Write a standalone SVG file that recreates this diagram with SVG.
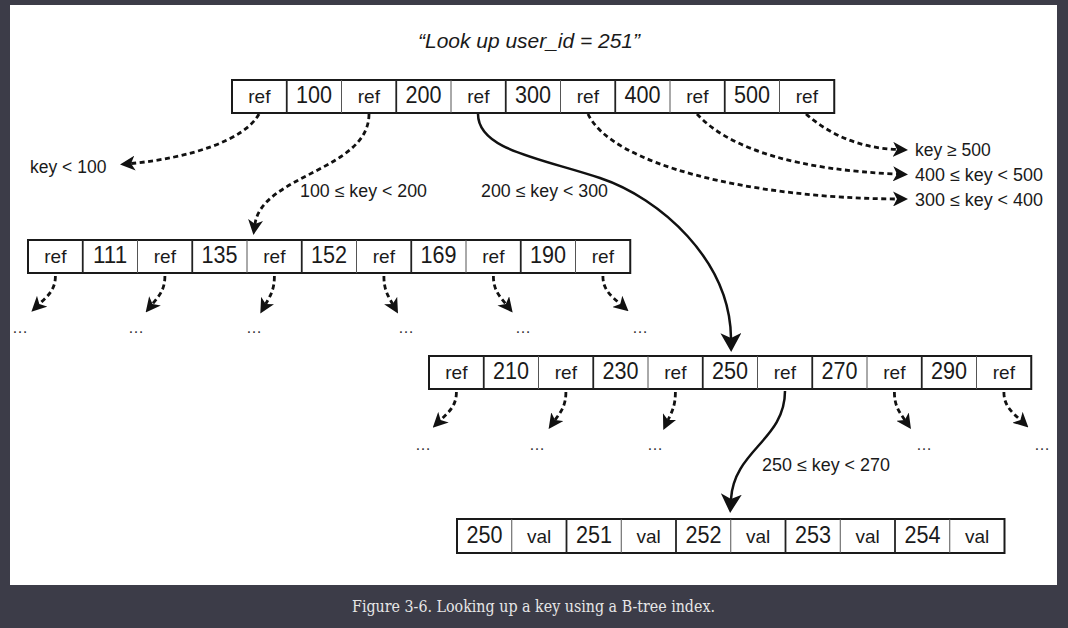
<svg xmlns="http://www.w3.org/2000/svg" width="1068" height="628" viewBox="0 0 1068 628">
<style>
.box{fill:#fff;stroke:#1a1a1a;stroke-width:2}
.dv{stroke:#555;stroke-width:1}
.dk{stroke:#222;stroke-width:1.8}
.num{font-family:"Liberation Sans",Arial,sans-serif;font-size:23px;fill:#1a1a1a;text-anchor:middle}
.ref{font-family:"Liberation Sans",Arial,sans-serif;font-size:19px;fill:#1a1a1a;text-anchor:middle}
.lbl{font-family:"Liberation Sans",Arial,sans-serif;font-size:17.5px;fill:#1a1a1a}
.dots{font-family:"Liberation Sans",Arial,sans-serif;font-size:16px;fill:#333;text-anchor:middle}
.dash{fill:none;stroke:#111;stroke-width:2.8;stroke-dasharray:5 3.5}
.solid{fill:none;stroke:#111;stroke-width:2.5}
</style>
<defs>
<marker id="ah" markerUnits="userSpaceOnUse" markerWidth="15" markerHeight="15" viewBox="0 0 15 15" refX="4" refY="7.5" orient="auto">
<path d="M0,0 L15,7.5 L0,15 L4,7.5 Z" fill="#111"/>
</marker>
<marker id="ahb" markerUnits="userSpaceOnUse" markerWidth="19" markerHeight="21" viewBox="0 0 19 21" refX="5" refY="10.5" orient="auto">
<path d="M0,0 L19,10.5 L0,21 L5,10.5 Z" fill="#111"/>
</marker>
</defs>
<rect x="0" y="0" width="1068" height="628" fill="#3c3c48"/>
<rect x="10" y="5" width="1047" height="580" fill="#fff"/>
<text x="418" y="48" font-family="'Liberation Sans',Arial,sans-serif" font-size="20.5" font-style="italic" fill="#1a1a1a" textLength="222" lengthAdjust="spacingAndGlyphs">“Look up user_id = 251”</text>

<g id="connectors">
<path class="dash" d="M259,114 C245,140 190,158 131,163.5" marker-end="url(#ah)"/>
<path class="dash" d="M369,114 C369,170 262,175 255,224" marker-end="url(#ah)"/>
<path class="solid" d="M478,114 C478,150 540,158 600,178 C660,198 730,260 731,338" marker-end="url(#ahb)"/>
<path class="dash" d="M588,114 C612,165 750,198 897,199" marker-end="url(#ah)"/>
<path class="dash" d="M697,114 C730,150 800,170 897,174" marker-end="url(#ah)"/>
<path class="dash" d="M806,114 C830,135 860,148 897,149.5" marker-end="url(#ah)"/>
<path class="dash" d="M55.4,276 C55.4,290 47.6,296 39.3,304" marker-end="url(#ah)"/>
<path class="dash" d="M164.9,276 C164.9,290 158.9,296 152.5,304" marker-end="url(#ah)"/>
<path class="dash" d="M274.4,276 C274.4,290 270.2,296 265.7,304" marker-end="url(#ah)"/>
<path class="dash" d="M383.9,276 C383.9,290 388.1,296 392.6,304" marker-end="url(#ah)"/>
<path class="dash" d="M493.4,276 C493.4,290 499.4,296 505.8,304" marker-end="url(#ah)"/>
<path class="dash" d="M602.9,276 C602.9,290 611.3,296 620.3,304" marker-end="url(#ah)"/>
<path class="dash" d="M456.4,392 C456.4,406 448.8,412 440.6,420" marker-end="url(#ah)"/>
<path class="dash" d="M565.9,392 C565.9,406 560.7,412 555,420" marker-end="url(#ah)"/>
<path class="dash" d="M675.4,392 C675.4,406 671.8,412 668,420" marker-end="url(#ah)"/>
<path class="dash" d="M894.4,392 C894.4,406 899.4,412 904.8,420" marker-end="url(#ah)"/>
<path class="dash" d="M1003.9,392 C1003.9,406 1011.9,412 1020.4,420" marker-end="url(#ah)"/>
<path class="solid" d="M785,391 C785,440 734,450 731,499" marker-end="url(#ahb)"/>
</g>

<g id="labels">
<text class="lbl" x="30" y="173">key &lt; 100</text>
<text class="lbl" x="300" y="197" textLength="127" lengthAdjust="spacingAndGlyphs">100 ≤ key &lt; 200</text>
<text class="lbl" x="481" y="197" textLength="127" lengthAdjust="spacingAndGlyphs">200 ≤ key &lt; 300</text>
<text class="lbl" x="915" y="156">key ≥ 500</text>
<text class="lbl" x="915" y="181" textLength="128" lengthAdjust="spacingAndGlyphs">400 ≤ key &lt; 500</text>
<text class="lbl" x="915" y="206" textLength="128" lengthAdjust="spacingAndGlyphs">300 ≤ key &lt; 400</text>
<text class="lbl" x="762" y="471" textLength="128" lengthAdjust="spacingAndGlyphs">250 ≤ key &lt; 270</text>
<text class="dots" x="20" y="333">…</text>
<text class="dots" x="136" y="333">…</text>
<text class="dots" x="254" y="333">…</text>
<text class="dots" x="406" y="333">…</text>
<text class="dots" x="523" y="333">…</text>
<text class="dots" x="640" y="333">…</text>
<text class="dots" x="423" y="450">…</text>
<text class="dots" x="537" y="450">…</text>
<text class="dots" x="655" y="450">…</text>
<text class="dots" x="924" y="450">…</text>
<text class="dots" x="1042" y="450">…</text>
</g>

<g id="node-root">
<rect class="box" x="232" y="80" width="602.25" height="33"/>
<line class="dk" x1="286.75" y1="80" x2="286.75" y2="113"/>
<line class="dv" x1="341.5" y1="80" x2="341.5" y2="113"/>
<line class="dk" x1="396.25" y1="80" x2="396.25" y2="113"/>
<line class="dv" x1="451" y1="80" x2="451" y2="113"/>
<line class="dk" x1="505.75" y1="80" x2="505.75" y2="113"/>
<line class="dv" x1="560.5" y1="80" x2="560.5" y2="113"/>
<line class="dk" x1="615.25" y1="80" x2="615.25" y2="113"/>
<line class="dv" x1="670" y1="80" x2="670" y2="113"/>
<line class="dk" x1="724.75" y1="80" x2="724.75" y2="113"/>
<line class="dv" x1="779.5" y1="80" x2="779.5" y2="113"/>
<text class="ref" x="259.4" y="103">ref</text>
<text class="num" x="314.1" y="103" textLength="36" lengthAdjust="spacingAndGlyphs">100</text>
<text class="ref" x="368.9" y="103">ref</text>
<text class="num" x="423.6" y="103" textLength="36" lengthAdjust="spacingAndGlyphs">200</text>
<text class="ref" x="478.4" y="103">ref</text>
<text class="num" x="533.1" y="103" textLength="36" lengthAdjust="spacingAndGlyphs">300</text>
<text class="ref" x="587.9" y="103">ref</text>
<text class="num" x="642.6" y="103" textLength="36" lengthAdjust="spacingAndGlyphs">400</text>
<text class="ref" x="697.4" y="103">ref</text>
<text class="num" x="752.1" y="103" textLength="36" lengthAdjust="spacingAndGlyphs">500</text>
<text class="ref" x="806.9" y="103">ref</text>
</g>

<g id="node-100-200">
<rect class="box" x="28" y="240" width="602.25" height="33"/>
<line class="dk" x1="82.75" y1="240" x2="82.75" y2="273"/>
<line class="dv" x1="137.5" y1="240" x2="137.5" y2="273"/>
<line class="dk" x1="192.25" y1="240" x2="192.25" y2="273"/>
<line class="dv" x1="247" y1="240" x2="247" y2="273"/>
<line class="dk" x1="301.75" y1="240" x2="301.75" y2="273"/>
<line class="dv" x1="356.5" y1="240" x2="356.5" y2="273"/>
<line class="dk" x1="411.25" y1="240" x2="411.25" y2="273"/>
<line class="dv" x1="466" y1="240" x2="466" y2="273"/>
<line class="dk" x1="520.75" y1="240" x2="520.75" y2="273"/>
<line class="dv" x1="575.5" y1="240" x2="575.5" y2="273"/>
<text class="ref" x="55.4" y="263">ref</text>
<text class="num" x="110.1" y="263" textLength="34" lengthAdjust="spacingAndGlyphs">111</text>
<text class="ref" x="164.9" y="263">ref</text>
<text class="num" x="219.6" y="263" textLength="36" lengthAdjust="spacingAndGlyphs">135</text>
<text class="ref" x="274.4" y="263">ref</text>
<text class="num" x="329.1" y="263" textLength="36" lengthAdjust="spacingAndGlyphs">152</text>
<text class="ref" x="383.9" y="263">ref</text>
<text class="num" x="438.6" y="263" textLength="36" lengthAdjust="spacingAndGlyphs">169</text>
<text class="ref" x="493.4" y="263">ref</text>
<text class="num" x="548.1" y="263" textLength="36" lengthAdjust="spacingAndGlyphs">190</text>
<text class="ref" x="602.9" y="263">ref</text>
</g>

<g id="node-200-300">
<rect class="box" x="429" y="356" width="602.25" height="33"/>
<line class="dk" x1="483.75" y1="356" x2="483.75" y2="389"/>
<line class="dv" x1="538.5" y1="356" x2="538.5" y2="389"/>
<line class="dk" x1="593.25" y1="356" x2="593.25" y2="389"/>
<line class="dv" x1="648" y1="356" x2="648" y2="389"/>
<line class="dk" x1="702.75" y1="356" x2="702.75" y2="389"/>
<line class="dv" x1="757.5" y1="356" x2="757.5" y2="389"/>
<line class="dk" x1="812.25" y1="356" x2="812.25" y2="389"/>
<line class="dv" x1="867" y1="356" x2="867" y2="389"/>
<line class="dk" x1="921.75" y1="356" x2="921.75" y2="389"/>
<line class="dv" x1="976.5" y1="356" x2="976.5" y2="389"/>
<text class="ref" x="456.4" y="379">ref</text>
<text class="num" x="511.1" y="379" textLength="36" lengthAdjust="spacingAndGlyphs">210</text>
<text class="ref" x="565.9" y="379">ref</text>
<text class="num" x="620.6" y="379" textLength="36" lengthAdjust="spacingAndGlyphs">230</text>
<text class="ref" x="675.4" y="379">ref</text>
<text class="num" x="730.1" y="379" textLength="36" lengthAdjust="spacingAndGlyphs">250</text>
<text class="ref" x="784.9" y="379">ref</text>
<text class="num" x="839.6" y="379" textLength="36" lengthAdjust="spacingAndGlyphs">270</text>
<text class="ref" x="894.4" y="379">ref</text>
<text class="num" x="949.1" y="379" textLength="36" lengthAdjust="spacingAndGlyphs">290</text>
<text class="ref" x="1003.9" y="379">ref</text>
</g>

<g id="node-leaf">
<rect class="box" x="457" y="519" width="547.5" height="34"/>
<line class="dv" x1="511.75" y1="519" x2="511.75" y2="553"/>
<line class="dk" x1="566.5" y1="519" x2="566.5" y2="553"/>
<line class="dv" x1="621.25" y1="519" x2="621.25" y2="553"/>
<line class="dk" x1="676" y1="519" x2="676" y2="553"/>
<line class="dv" x1="730.75" y1="519" x2="730.75" y2="553"/>
<line class="dk" x1="785.5" y1="519" x2="785.5" y2="553"/>
<line class="dv" x1="840.25" y1="519" x2="840.25" y2="553"/>
<line class="dk" x1="895" y1="519" x2="895" y2="553"/>
<line class="dv" x1="949.75" y1="519" x2="949.75" y2="553"/>
<text class="num" x="484.4" y="543" textLength="36" lengthAdjust="spacingAndGlyphs">250</text>
<text class="ref" x="539.1" y="543">val</text>
<text class="num" x="593.9" y="543" textLength="36" lengthAdjust="spacingAndGlyphs">251</text>
<text class="ref" x="648.6" y="543">val</text>
<text class="num" x="703.4" y="543" textLength="36" lengthAdjust="spacingAndGlyphs">252</text>
<text class="ref" x="758.1" y="543">val</text>
<text class="num" x="812.9" y="543" textLength="36" lengthAdjust="spacingAndGlyphs">253</text>
<text class="ref" x="867.6" y="543">val</text>
<text class="num" x="922.4" y="543" textLength="36" lengthAdjust="spacingAndGlyphs">254</text>
<text class="ref" x="977.1" y="543">val</text>
</g>

<text x="352" y="612" font-family="'DejaVu Serif','Liberation Serif',serif" font-size="16.5" fill="#e6e6e6" textLength="363" lengthAdjust="spacingAndGlyphs">Figure 3-6. Looking up a key using a B-tree index.</text>
</svg>
